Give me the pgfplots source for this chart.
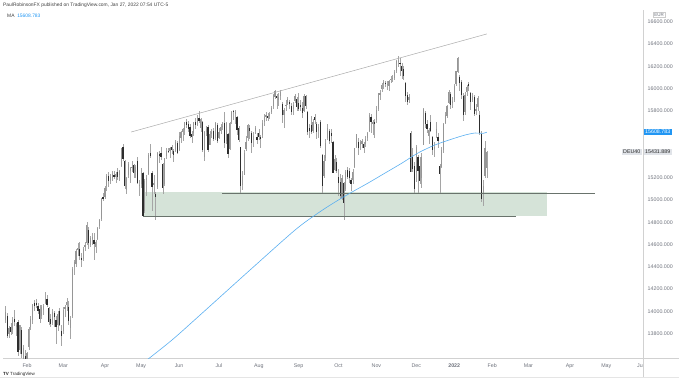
\documentclass[border=0pt]{standalone}
\usepackage{pgfplots}
\pgfplotsset{compat=1.18}
\usepackage{pgfplotstable}
\usepackage{fontspec}
\setmainfont{Liberation Sans}
\definecolor{upc}{RGB}{150,150,150}
\definecolor{dnc}{RGB}{45,45,45}
\definecolor{wick}{RGB}{165,165,165}
\definecolor{maline}{RGB}{90,175,240}
\definecolor{zone}{RGB}{213,227,216}
\definecolor{tvblue}{RGB}{33,150,243}
\definecolor{axtext}{RGB}{110,114,124}
\definecolor{lbl}{RGB}{224,227,232}
\definecolor{suppc}{RGB}{105,115,108}
\definecolor{trendc}{RGB}{170,170,170}

\pgfplotstableread{
i o h l c
-12 13930 14050 13900 13989
-11 13960 13990 13760 13787
-10 13800 13870 13760 13848
-9 13860 13900 13790 13815
-8 13840 13950 13800 13922
-7 13930 14010 13870 13906
-6 13860 13900 13780 13874
-5 13900 13920 13600 13643
-4 13660 13880 13620 13871
-3 13830 13860 13580 13620
-2 13540 13700 13460 13665
-1 13600 13650 13330 13432
0 13450 13640 13400 13622
1 13680 13860 13650 13835
2 13860 13960 13830 13933
3 13930 14070 13890 14060
4 14070 14100 14000 14056
5 14070 14110 14030 14059
6 14050 14080 13980 14011
7 14020 14060 13900 13932
8 13960 14060 13930 14041
9 14020 14070 13970 14050
10 14080 14170 14070 14109
11 14110 14150 14040 14065
12 14030 14040 13880 13909
13 13930 13980 13860 13886
14 13900 14020 13880 13993
15 13980 14000 13860 13950
16 13920 13960 13710 13865
17 13880 14000 13820 13976
18 14000 14030 13870 13879
19 13820 13880 13690 13786
20 13830 14040 13800 14012
21 14030 14060 13950 14039
22 14060 14120 14000 14080
23 14040 14090 13880 13920
24 13850 13960 13750 13920
25 13960 14400 13940 14380
26 14400 14460 14330 14437
27 14430 14560 14400 14541
28 14560 14610 14500 14569
29 14560 14620 14460 14502
30 14480 14520 14400 14461
31 14470 14580 14450 14557
32 14580 14620 14540 14596
33 14620 14800 14600 14775
34 14730 14760 14560 14621
35 14600 14680 14580 14657
36 14660 14700 14600 14662
37 14640 14700 14460 14610
38 14580 14640 14520 14621
39 14650 14760 14640 14749
40 14770 14830 14740 14818
41 14830 15020 14810 15009
42 15020 15060 14990 15008
43 15030 15130 15010 15107
44 15130 15230 15080 15212
45 15210 15250 15120 15177
46 15170 15230 15140 15203
47 15200 15260 15170 15234
48 15220 15260 15190 15215
49 15210 15250 15150 15234
50 15250 15290 15180 15209
51 15230 15270 15170 15255
52 15310 15470 15300 15460
53 15470 15500 15350 15368
54 15350 15360 15100 15129
55 15090 15210 15050 15195
56 15230 15340 15200 15320
57 15260 15300 15150 15280
58 15290 15350 15250 15296
59 15310 15320 15200 15249
60 15250 15310 15200 15292
61 15350 15390 15140 15154
62 15130 15180 15040 15136
63 15150 15290 15110 15236
64 15240 15250 14850 14856
65 14900 15190 14880 15170
66 15180 15220 15040 15197
67 15240 15420 15220 15400
68 15420 15500 15380 15400
69 15240 15260 14900 15120
70 15140 15220 15050 15150
71 15050 15070 14816 15030
72 15120 15430 15100 15417
73 15410 15440 15330 15397
74 15420 15480 15360 15386
75 15320 15330 15050 15113
76 15150 15380 15130 15370
77 15400 15470 15370 15437
78 15440 15470 15420 15438
79 15440 15480 15380 15465
80 15470 15490 15410 15450
81 15440 15460 15340 15406
82 15440 15540 15430 15519
83 15510 15530 15410 15421
84 15450 15610 15440 15568
85 15560 15620 15510 15603
86 15610 15650 15530 15633
87 15630 15700 15580 15693
88 15700 15730 15650 15677
89 15680 15710 15610 15640
90 15650 15680 15560 15581
91 15590 15620 15510 15571
92 15600 15700 15570 15693
93 15700 15740 15640 15673
94 15680 15760 15660 15729
95 15730 15800 15690 15710
96 15650 15740 15610 15728
97 15700 15710 15430 15448
98 15390 15620 15350 15603
99 15610 15660 15570 15636
100 15650 15670 15430 15456
101 15500 15620 15490 15589
102 15600 15640 15560 15607
103 15620 15650 15530 15554
104 15560 15700 15540 15691
105 15670 15690 15510 15531
106 15560 15650 15550 15603
107 15620 15680 15590 15650
108 15660 15700 15630 15661
109 15690 15790 15470 15511
110 15530 15700 15500 15692
111 15590 15600 15380 15420
112 15460 15700 15450 15688
113 15700 15800 15680 15790
114 15800 15810 15720 15789
115 15780 15810 15680 15788
116 15740 15750 15580 15630
117 15640 15660 15520 15540
118 15470 15480 15060 15133
119 15140 15260 15090 15216
120 15230 15450 15220 15422
121 15460 15570 15440 15514
122 15560 15680 15530 15669
123 15640 15670 15550 15618
124 15600 15620 15420 15519
125 15540 15610 15480 15570
126 15620 15660 15590 15640
127 15560 15600 15500 15544
128 15600 15640 15540 15568
129 15560 15580 15470 15555
130 15590 15720 15560 15692
131 15700 15770 15660 15744
132 15750 15790 15710 15761
133 15750 15780 15710 15745
134 15760 15790 15730 15770
135 15790 15840 15770 15826
136 15850 15950 15820 15937
137 15930 15990 15910 15977
138 15930 15950 15820 15925
139 15900 15960 15840 15921
140 15940 15990 15900 15965
141 15860 15880 15690 15765
142 15770 15830 15650 15808
143 15850 15900 15800 15852
144 15870 15920 15850 15906
145 15880 15900 15820 15861
146 15840 15870 15760 15793
147 15820 15880 15760 15852
148 15890 15950 15870 15930
149 15900 15920 15800 15835
150 15870 15960 15800 15824
151 15850 15900 15800 15840
152 15820 15880 15740 15781
153 15800 15950 15790 15932
154 15930 15940 15820 15843
155 15790 15800 15580 15610
156 15640 15680 15560 15623
157 15670 15750 15590 15609
158 15620 15730 15600 15701
159 15740 15770 15680 15722
160 15680 15700 15550 15616
161 15620 15680 15560 15651
162 15700 15720 15470 15490
163 15400 15410 15060 15132
164 15220 15400 15200 15349
165 15380 15550 15350 15506
166 15560 15680 15540 15644
167 15620 15640 15500 15532
168 15600 15640 15510 15573
169 15520 15530 15240 15249
170 15270 15400 15260 15366
171 15340 15380 15240 15261
172 15200 15280 15040 15156
173 15160 15230 15010 15036
174 15020 15220 15000 15195
175 15150 15160 14820 14973
176 15100 15270 15080 15252
177 15270 15300 15190 15207
178 15260 15290 15150 15199
179 15180 15200 15080 15147
180 15180 15280 15140 15249
181 15300 15470 15290 15463
182 15480 15590 15470 15587
183 15520 15560 15400 15474
184 15500 15540 15450 15516
185 15510 15550 15470 15523
186 15500 15520 15420 15473
187 15510 15570 15480 15543
188 15560 15610 15530 15600
189 15620 15780 15610 15758
190 15740 15770 15600 15705
191 15690 15720 15580 15696
192 15700 15730 15560 15689
193 15720 15840 15690 15806
194 15820 15960 15800 15954
195 15950 15990 15900 15959
196 16000 16050 15970 16029
197 16050 16080 16000 16054
198 16050 16070 16010 16047
199 16040 16070 15990 16040
200 16030 16080 15980 16067
201 16080 16110 16050 16083
202 16090 16120 16060 16094
203 16100 16170 16080 16148
204 16160 16260 16140 16247
205 16250 16290 16190 16251
206 16230 16270 16110 16221
207 16200 16230 16090 16160
208 16170 16200 16080 16115
209 16050 16060 15880 15937
210 15940 15970 15850 15878
211 15900 15950 15870 15917
212 15600 15620 15250 15257
213 15380 15470 15250 15280
214 15300 15340 15060 15100
215 15250 15490 15160 15472
216 15380 15400 15060 15263
217 15300 15390 15140 15170
218 15200 15420 15110 15386
219 15500 15830 15490 15814
220 15780 15800 15650 15687
221 15680 15720 15600 15639
222 15580 15650 15500 15623
223 15700 15760 15610 15621
224 15560 15570 15400 15453
225 15460 15520 15390 15476
226 15600 15700 15560 15637
227 15560 15600 15470 15531
228 15300 15320 15060 15239
229 15300 15480 15290 15447
230 15450 15690 15420 15676
231 15690 15790 15680 15756
232 15760 15850 15740 15837
233 15870 15990 15860 15964
234 15950 15970 15820 15853
235 15870 15920 15830 15885
236 15900 16040 15880 16021
237 16040 16160 16020 16152
238 16150 16285 16140 16271
239 16100 16120 15980 16052
240 16060 16080 15910 15948
241 15930 15960 15710 15768
242 15790 15970 15760 15942
243 15970 16030 15930 16010
244 16040 16060 15980 16031
245 15960 15970 15810 15883
246 15900 15960 15880 15934
247 15920 15940 15750 15772
248 15800 15860 15760 15810
249 15840 15930 15800 15912
250 15760 15800 15580 15603
251 15590 15620 14980 15011
252 15060 15180 14950 15123
253 15220 15530 15200 15460
254 15290 15440 15200 15432
}\candles

\pgfplotstableread{
i v
65.5 13555
80.1 13744
95.6 13968
123.2 14372
148.1 14731
160.8 14883
170.2 14982
179.6 15072
188.4 15152
197.8 15242
207.2 15332
216.0 15422
225.4 15494
234.8 15547
242.0 15583
247.5 15601
251.9 15598
254.0 15608.783
}\maline

\begin{document}
\begin{tikzpicture}[font=\fontsize{5.3}{6}\selectfont]
\useasboundingbox (-3pt,-23pt) rectangle (676pt,358pt);
\begin{axis}[
  at={(0,0)}, anchor=south west,
  scale only axis, width=640pt, height=348pt,
  xmin=-13.3, xmax=340.3, ymin=13582, ymax=16705,
  axis x line*=bottom, axis y line*=right,
  axis line style={draw=black!18, line width=0.6pt},
  major tick length=0pt,
  ytick={13800,14000,14200,14400,14600,14800,15000,15200,15800,16000,16200,16400,16600},
  scaled y ticks=false,
  y tick label style={text=axtext, anchor=west, xshift=1.2pt, font=\fontsize{5.3}{6}\selectfont,
    /pgf/number format/fixed, /pgf/number format/fixed zerofill, /pgf/number format/precision=3,
    /pgf/number format/1000 sep={}, /pgf/number format/assume math mode=true},
  xtick={0,20,43,63,84,106,128,150,172,193,215,236,257,277,300,320},
  xticklabels={Feb,Mar,Apr,May,Jun,Jul,Aug,Sep,Oct,Nov,Dec,{\textbf{2022}},Feb,Mar,Apr,May},
  x tick label style={text=axtext, yshift=-2.5pt, font=\fontsize{5.3}{6}\selectfont},
  clip=true,
]
% support zone
\addplot[fill=zone, draw=none, forget plot] coordinates {(64.1,14852) (287.3,14852) (287.3,15072) (64.1,15072)} -- cycle;
% wicks
\addplot[draw=none, forget plot,
  error bars/.cd, y dir=both, y explicit, error mark=none,
  error bar style={draw=wick, line width=0.45pt, solid}]
  table[x=i, y expr={(\thisrow{h}+\thisrow{l})/2}, y error expr={(\thisrow{h}-\thisrow{l})/2}] {\candles};
% up bodies
\addplot[draw=none, forget plot,
  restrict expr to domain={\thisrow{c}-\thisrow{o}}{0:100000},
  error bars/.cd, y dir=both, y explicit, error mark=none,
  error bar style={draw=upc, line width=1.2pt, solid}]
  table[x=i, y expr={(\thisrow{o}+\thisrow{c})/2}, y error expr={abs(\thisrow{c}-\thisrow{o})/2+3}] {\candles};
% down bodies
\addplot[draw=none, forget plot,
  restrict expr to domain={\thisrow{c}-\thisrow{o}}{-100000:-0.5},
  error bars/.cd, y dir=both, y explicit, error mark=none,
  error bar style={draw=dnc, line width=1.2pt, solid}]
  table[x=i, y expr={(\thisrow{o}+\thisrow{c})/2}, y error expr={abs(\thisrow{c}-\thisrow{o})/2+3}] {\candles};
% support lines
\addplot[draw=suppc, line width=0.7pt, forget plot] coordinates {(107.7,15063) (313.8,15063)};
\addplot[draw=suppc, line width=0.7pt, forget plot] coordinates {(64.1,14852) (270.2,14852)};
% trend line
\addplot[draw=trendc, line width=0.5pt, forget plot] coordinates {(57.5,15610) (254,16490)};
% moving average
\addplot[draw=maline, line width=0.6pt, smooth, forget plot] table[x=i, y=v] {\maline};
\coordinate (maR) at (axis cs:340.3,15608.783);
\coordinate (pxR) at (axis cs:340.3,15431.889);
\end{axis}
% right side labels
\node[fill=tvblue, text=white, anchor=west, inner xsep=1.5pt, inner ysep=1.2pt] at ([xshift=0.5pt]maR) {15608.783};
\node[fill=lbl, text=black!85, anchor=west, inner xsep=1.5pt, inner ysep=1.2pt] at ([xshift=0.5pt]pxR) {15431.889};
\node[fill=lbl, text=black!85, anchor=east, inner xsep=1.5pt, inner ysep=1.2pt] at ([xshift=-1pt]pxR) {DEU40};
\node[draw=black!20, text=axtext, inner sep=1pt, font=\fontsize{4.5}{5}\selectfont] at (656pt,343pt) {EUR};
% frame lines
\draw[black!18, line width=0.6pt] (640pt,-19pt) -- (640pt,0pt);
\draw[black!18, line width=0.6pt] (640pt,0pt) -- (676pt,0pt);
\draw[black!10, line width=0.5pt] (-3pt,-19pt) -- (676pt,-19pt);
% header
\node[anchor=west, text=black!75, inner sep=0pt, font=\fontsize{4.9}{5.5}\selectfont] at (0pt,353pt) {PaulRobinsonFX published on TradingView.com, Jan 27, 2022 07:54 UTC-5};
\node[anchor=west, text=black!75, inner sep=0pt, font=\fontsize{4.9}{5.5}\selectfont] at (4pt,342pt) {MA\ \ \textcolor{tvblue}{15608.783}};
\node[anchor=east, text=axtext, inner sep=0pt] at (640pt,-7.5pt) {Ju};
% logo
\node[anchor=west, text=black!85, inner sep=0pt, font=\fontsize{4.5}{5}\selectfont] at (0pt,-16pt) {\textbf{TV}\ TradingView};
\end{tikzpicture}
\end{document}
